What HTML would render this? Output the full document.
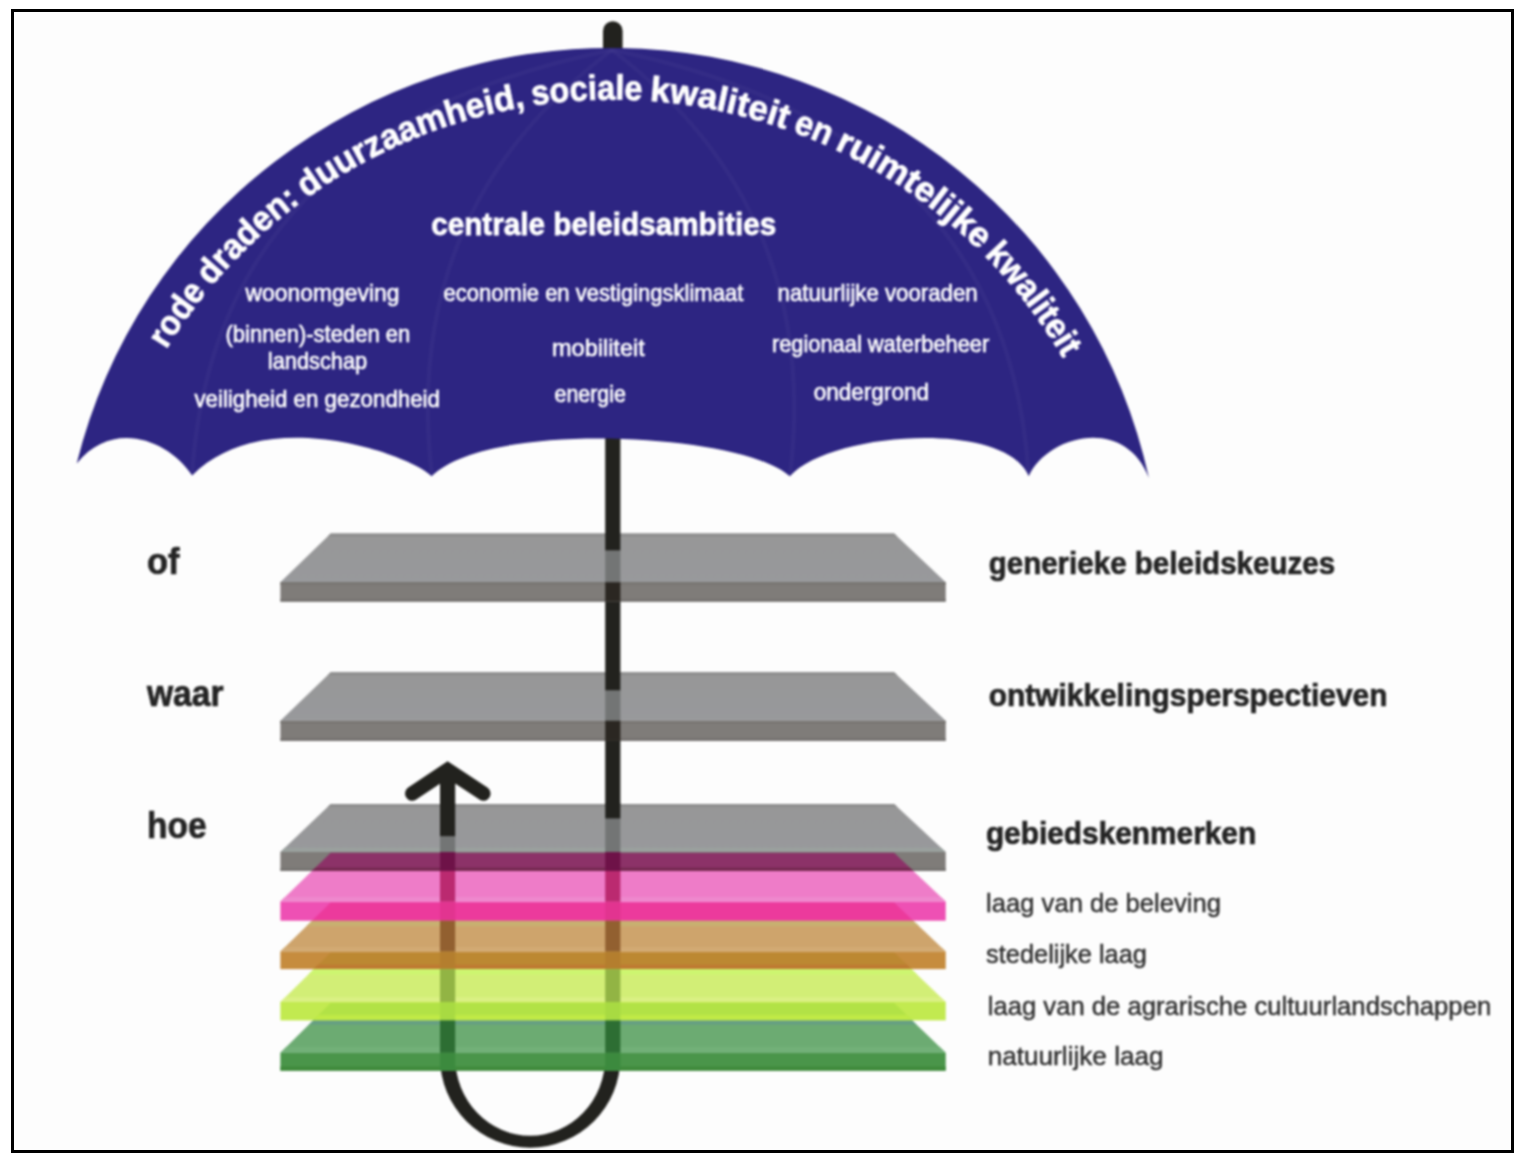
<!DOCTYPE html>
<html lang="nl">
<head>
<meta charset="utf-8">
<title>Paraplu - centrale beleidsambities</title>
<style>
  html, body { margin: 0; padding: 0; background: #ffffff; }
  body { width: 1528px; height: 1164px; overflow: hidden; position: relative;
         font-family: "Liberation Sans", sans-serif; }
  #frame { position: absolute; left: 11px; top: 8.5px; width: 1497px; height: 1138px;
           border: 3px solid #000; background: #fdfdfd; }
  svg { position: absolute; left: 0; top: 0; filter: blur(0.8px); }
  text { font-family: "Liberation Sans", sans-serif; }
  .b { font-weight: bold; }
  .w { fill: #ffffff; }
  .d { fill: #242424; }
  .g { fill: #2e2e2e; }
</style>
</head>
<body>
<div id="frame"></div>
<svg width="1528" height="1164" viewBox="0 0 1528 1164">
  <defs>
    <linearGradient id="gtop" x1="0" y1="0" x2="0" y2="1"><stop offset="0" stop-color="#979797"/><stop offset="1" stop-color="#98999c"/></linearGradient>
    <path id="arcText" d="M 150.7 376.7 A 522.5 522.5 0 0 1 1073.3 376.7"/>
  </defs>

  <!-- ===== POLE (behind everything) ===== -->
  <g id="pole" fill="none" stroke="#22221e">
    <!-- top cap -->
    <path d="M 612.8 31 L 612.8 60" stroke-width="19.6" stroke-linecap="round"/>
    <!-- main pole + U-turn + arrow shaft -->
    <path d="M 612.8 430 L 612.8 1058 M 447.6 1058 L 447.6 772" stroke-width="15.2"/>
    <path d="M 440 1057.5 A 90.2 90.2 0 0 0 620.4 1057.5 L 605.2 1057.5 A 75 78.3 0 0 1 455.2 1057.5 Z" fill="#22221e" stroke="none"/>
  </g>

  <!-- ===== GREY PLATES 1 & 2 ===== -->
  <g id="plate1">
    <polygon points="330.7,533.6 894.1,533.6 945.7,582.2 280.4,582.2" fill="url(#gtop)"/>
    <polygon points="330.7,533.6 894.1,533.6 897.3,536.6 327.6,536.6" fill="#8e8e8e"/>
    <rect x="280.4" y="582.2" width="665.3" height="19.4" fill="#7f7c79"/>
    <rect x="280.4" y="582.2" width="665.3" height="2.5" fill="#777471"/>
    <rect x="280.4" y="599" width="665.3" height="2.6" fill="#757270"/>
    <!-- pole through plate -->
    <rect x="605.2" y="533" width="15.2" height="17.6" fill="#22221e"/>
    <rect x="605.2" y="550.8" width="15.2" height="31.4" fill="#737575"/>
    <rect x="605.2" y="582.2" width="15.2" height="19.4" fill="#2b2722"/>
  </g>
  <g id="plate2">
    <polygon points="330.7,672.3 894.1,672.3 945.7,720.8 280.4,720.8" fill="url(#gtop)"/>
    <polygon points="330.7,672.3 894.1,672.3 897.3,675.3 327.6,675.3" fill="#8e8e8e"/>
    <rect x="280.4" y="720.8" width="665.3" height="20.1" fill="#7f7c79"/>
    <rect x="280.4" y="720.8" width="665.3" height="2.5" fill="#777471"/>
    <rect x="280.4" y="738.3" width="665.3" height="2.6" fill="#757270"/>
    <rect x="605.2" y="672" width="15.2" height="18.6" fill="#22221e"/>
    <rect x="605.2" y="690.6" width="15.2" height="30.2" fill="#737575"/>
    <rect x="605.2" y="720.8" width="15.2" height="20.1" fill="#2b2722"/>
  </g>

  <!-- ===== STACK: green, lime, orange, pink, grey ===== -->
  <g id="stack">
    <!-- green -->
    <polygon points="330.7,1003 894.1,1003 945.7,1052.8 280.4,1052.8" fill="#6cab72"/>
    <rect x="280.4" y="1052.8" width="665.3" height="17.9" fill="#4a954a"/>
    <!-- lime -->
    <polygon points="330.7,952.5 894.1,952.5 945.7,1002 280.4,1002" fill="#d2ee76"/>
    <rect x="280.4" y="1002" width="665.3" height="18.4" fill="#c2ea50"/>
    <polygon points="330.7,1003 894.1,1003 912.5,1020.4 313,1020.4" fill="#b2e246"/>
    <!-- orange -->
    <polygon points="330.7,902.5 894.1,902.5 945.7,951.5 280.4,951.5" fill="#cea46c"/>
    <rect x="280.4" y="951.5" width="665.3" height="17.6" fill="#c68c3e"/>
    <polygon points="330.7,952.5 894.1,952.5 911.5,969.1 313.8,969.1" fill="#bc8832"/>
    <!-- pink -->
    <polygon points="330.7,852.7 894.1,852.7 945.7,901.6 280.4,901.6" fill="#ee7cc8"/>
    <rect x="280.4" y="901.6" width="665.3" height="19.1" fill="#ee50b4"/>
    <polygon points="330.7,902.5 894.1,902.5 913.3,920.7 311.9,920.7" fill="#ec3a9c"/>
    <!-- grey 3 -->
    <polygon points="330.7,804 894.1,804 945.7,852 280.4,852" fill="url(#gtop)"/>
    <polygon points="330.7,804 894.1,804 897.3,807 327.6,807" fill="#8e8e8e"/>
    <rect x="280.4" y="852" width="665.3" height="19" fill="#7f7c79"/>
    <rect x="280.4" y="868.4" width="665.3" height="2.6" fill="#757270"/>
    <polygon points="330.7,852.7 894.1,852.7 913.4,871 311.9,871" fill="#8c3268"/>
  </g>

  <g id="bands">
    <polygon points="284.8,847.8 941.2,847.8 945.7,852 280.4,852" fill="#9aa19e"/>
    <polygon points="315.3,867.7 909.9,867.7 913.4,871 311.9,871" fill="#74294f"/>
    <polygon points="285.1,897 940.8,897 945.7,901.6 280.4,901.6" fill="#ee88cd"/>
    <polygon points="312.0,920.7 913.3,920.7 919.2,926.3 306.3,926.3" fill="#c8b070"/>
    <polygon points="285.1,946.9 940.9,946.9 945.7,951.5 280.4,951.5" fill="#d2aa73"/>
    <polygon points="318.2,964.8 906.9,964.8 911.4,969.1 313.8,969.1" fill="#be7a32"/>
    <polygon points="313.8,969.1 911.4,969.1 917.1,974.6 308.2,974.6" fill="#cdf570"/>
    <polygon points="285.2,997.3 940.8,997.3 945.7,1002 280.4,1002" fill="#daf084"/>
    <polygon points="318.5,1015.1 906.6,1015.1 912.1,1020.4 313.1,1020.4" fill="#c0ea46"/>
    <polygon points="313.1,1020.4 912.1,1020.4 916.3,1024.4 309.1,1024.4" fill="#669e84"/>
    <polygon points="286.5,1046.8 939.5,1046.8 945.7,1052.8 280.4,1052.8" fill="#72b078"/>
    <rect x="280.4" y="1066.6" width="665.3" height="4.1" fill="#408a3c"/>
  </g>

  <!-- ===== pole + arrow shaft through the stack ===== -->
  <g id="through">
    <!-- right pole x=605.2 -->
    <rect x="605.2" y="803" width="15.2" height="15.7" fill="#22221e"/>
    <rect x="605.2" y="818.7" width="15.2" height="33.3" fill="#737575"/>
    <rect x="605.2" y="852" width="15.2" height="19" fill="#6e1248"/>
    <rect x="605.2" y="871" width="15.2" height="30.6" fill="#bb2a70"/>
    <rect x="605.2" y="901.6" width="15.2" height="19.1" fill="#e23490"/>
    <rect x="605.2" y="920.7" width="15.2" height="30.8" fill="#926030"/>
    <rect x="605.2" y="951.5" width="15.2" height="17.6" fill="#b47e2e"/>
    <rect x="605.2" y="969.1" width="15.2" height="32.9" fill="#92b444"/>
    <rect x="605.2" y="1002" width="15.2" height="18.4" fill="#a8da42"/>
    <rect x="605.2" y="1020.4" width="15.2" height="32.4" fill="#2d6e33"/>
    <rect x="605.2" y="1052.8" width="15.2" height="17.9" fill="#3c8a3e"/>
    <!-- arrow shaft x=440 -->
    <rect x="440" y="803" width="15.2" height="33.5" fill="#22221e"/>
    <rect x="440" y="836.5" width="15.2" height="15.5" fill="#737575"/>
    <rect x="440" y="852" width="15.2" height="19" fill="#6e1248"/>
    <rect x="440" y="871" width="15.2" height="30.6" fill="#bb2a70"/>
    <rect x="440" y="901.6" width="15.2" height="19.1" fill="#e23490"/>
    <rect x="440" y="920.7" width="15.2" height="30.8" fill="#926030"/>
    <rect x="440" y="951.5" width="15.2" height="17.6" fill="#b47e2e"/>
    <rect x="440" y="969.1" width="15.2" height="32.9" fill="#92b444"/>
    <rect x="440" y="1002" width="15.2" height="18.4" fill="#a8da42"/>
    <rect x="440" y="1020.4" width="15.2" height="32.4" fill="#2d6e33"/>
    <rect x="440" y="1052.8" width="15.2" height="17.9" fill="#3c8a3e"/>
  </g>

  <!-- arrow head -->
  <path d="M 412.2 793.6 L 447.6 770 L 483.4 793.6" fill="none" stroke="#22221e" stroke-width="14.4" stroke-linecap="round" stroke-linejoin="miter"/>

  <!-- ===== UMBRELLA ===== -->
  <path id="canopy" fill="#2d2582" d="M 76.7 463.5
      A 550.2 545.3 0 0 1 1148.9 478
      C 1124.6 414.3 1046.4 435.8 1028.7 476.3
      C 1005.1 419.1 829.3 432 789.9 476.3
      C 744.7 433.7 490.1 418.4 431.6 476.3
      C 413.6 456.6 266.2 401.1 192.1 475.5
      C 168.4 439.8 112.9 418.6 76.7 463.5 Z"/>

  <!-- arc text -->
  <g id="ribs" fill="none" stroke="#ffffff" stroke-opacity="0.035" stroke-width="4">
    <path d="M 612 50 Q 400 210 432 476"/>
    <path d="M 612 50 Q 822 210 790 476"/>
    <path d="M 612 50 Q 215 130 192 475"/>
    <path d="M 612 50 Q 1007 130 1028.7 476"/>
  </g>

  <g id="arcwords" class="b w" font-size="35" stroke="#fff" stroke-width="0.8">
    <text><textPath href="#arcText" startOffset="31.4" textLength="70.2" lengthAdjust="spacingAndGlyphs">rode</textPath></text>
    <text><textPath href="#arcText" startOffset="108.9" textLength="122.7" lengthAdjust="spacingAndGlyphs">draden:</textPath></text>
    <text><textPath href="#arcText" startOffset="238.9" textLength="239.4" lengthAdjust="spacingAndGlyphs">duurzaamheid,</textPath></text>
    <text><textPath href="#arcText" startOffset="485.6" textLength="109.8" lengthAdjust="spacingAndGlyphs">sociale</textPath></text>
    <text><textPath href="#arcText" startOffset="602.7" textLength="139.3" lengthAdjust="spacingAndGlyphs">kwaliteit</textPath></text>
    <text><textPath href="#arcText" startOffset="749.2" textLength="38.1" lengthAdjust="spacingAndGlyphs">en</textPath></text>
    <text><textPath href="#arcText" startOffset="794.7" textLength="177.2" lengthAdjust="spacingAndGlyphs">ruimtelijke</textPath></text>
    <text><textPath href="#arcText" startOffset="979.1" textLength="130.2" lengthAdjust="spacingAndGlyphs">kwaliteit</textPath></text>
  </g>


  <!-- canopy texts -->
  <text class="b w" font-size="32" stroke="#fff" stroke-width="0.8" x="431.2" y="234.8" textLength="345" lengthAdjust="spacingAndGlyphs">centrale beleidsambities</text>
  <g class="w" font-size="24" stroke="#fff" stroke-width="0.65">
    <text x="245.6" y="300.9" textLength="153.8" lengthAdjust="spacingAndGlyphs">woonomgeving</text>
    <text x="225.5" y="342" textLength="184.8" lengthAdjust="spacingAndGlyphs">(binnen)-steden en</text>
    <text x="267.8" y="369" textLength="99.4" lengthAdjust="spacingAndGlyphs">landschap</text>
    <text x="194.4" y="406.5" textLength="245.6" lengthAdjust="spacingAndGlyphs">veiligheid en gezondheid</text>
    <text x="443.6" y="300.7" textLength="299.7" lengthAdjust="spacingAndGlyphs">economie en vestigingsklimaat</text>
    <text x="552" y="355.8" textLength="92.7" lengthAdjust="spacingAndGlyphs">mobiliteit</text>
    <text x="554.5" y="402" textLength="71.3" lengthAdjust="spacingAndGlyphs">energie</text>
    <text x="777.6" y="300.8" textLength="200" lengthAdjust="spacingAndGlyphs">natuurlijke vooraden</text>
    <text x="771.9" y="352.3" textLength="217.4" lengthAdjust="spacingAndGlyphs">regionaal waterbeheer</text>
    <text x="813.7" y="400.4" textLength="115.3" lengthAdjust="spacingAndGlyphs">ondergrond</text>
  </g>

  <!-- ===== LABELS ===== -->
  <g class="b d" font-size="36" stroke="#242424" stroke-width="0.7">
    <text x="147" y="573.9" textLength="32.6" lengthAdjust="spacingAndGlyphs">of</text>
    <text x="147" y="706.2" textLength="76.5" lengthAdjust="spacingAndGlyphs">waar</text>
    <text x="147" y="838" textLength="59.5" lengthAdjust="spacingAndGlyphs">hoe</text>
  </g>
  <g class="b d" font-size="32" stroke="#242424" stroke-width="0.7">
    <text x="988.7" y="573.8" textLength="346.4" lengthAdjust="spacingAndGlyphs">generieke beleidskeuzes</text>
    <text x="988.7" y="706.2" textLength="398.8" lengthAdjust="spacingAndGlyphs">ontwikkelingsperspectieven</text>
    <text x="985.9" y="844.2" textLength="270.3" lengthAdjust="spacingAndGlyphs">gebiedskenmerken</text>
  </g>
  <g class="g" font-size="26.5" stroke="#2e2e2e" stroke-width="0.45">
    <text x="986.1" y="912.3" textLength="234.8" lengthAdjust="spacingAndGlyphs">laag van de beleving</text>
    <text x="986.1" y="963.4" textLength="160.8" lengthAdjust="spacingAndGlyphs">stedelijke laag</text>
    <text x="987.7" y="1014.5" textLength="503.5" lengthAdjust="spacingAndGlyphs">laag van de agrarische cultuurlandschappen</text>
    <text x="987.7" y="1065" textLength="175.9" lengthAdjust="spacingAndGlyphs">natuurlijke laag</text>
  </g>
</svg>
</body>
</html>
